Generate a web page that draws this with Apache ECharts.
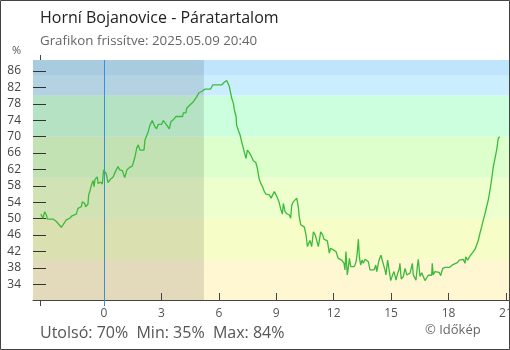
<!DOCTYPE html>
<html>
<head>
<meta charset="utf-8">
<script src="https://cdn.jsdelivr.net/npm/echarts@6/dist/echarts.min.js"></script>
<style>html,body{margin:0;padding:0;background:#fff}#c{width:510px;height:350px}</style>
</head>
<body>
<div id="c"></div>
<script>
// Hours relative to midnight 2025.05.09 (negative = previous evening)
const times = [-3.30,-3.19,-3.10,-3.01,-2.96,-2.66,-2.49,-2.23,-2.14,-1.97,
-1.79,-1.67,-1.45,-1.36,-1.19,-1.13,-1.01,-0.96,-0.84,-0.80,
-0.72,-0.63,-0.57,-0.52,-0.47,-0.40,-0.35,-0.31,-0.26,-0.17,
-0.09,-0.02,0.04,0.12,0.21,0.33,0.47,0.56,0.64,0.73,
0.82,0.96,1.08,1.20,1.34,1.48,1.53,1.62,1.71,1.79,
1.88,2.09,2.14,2.31,2.40,2.52,2.66,2.75,2.84,3.01,
3.10,3.28,3.41,3.50,3.62,3.75,4.11,4.14,4.28,4.32,
4.49,4.67,4.84,4.96,5.10,5.28,5.57,5.68,6.15,6.27,
6.41,6.49,6.55,6.67,6.76,6.81,6.90,6.93,7.02,7.11,
7.19,7.28,7.37,7.42,7.49,7.59,7.72,7.80,7.93,8.01,
8.10,8.19,8.29,8.36,8.45,8.64,8.73,8.81,8.90,9.02,
9.14,9.25,9.32,9.37,9.46,9.55,9.68,9.75,9.81,9.89,
10.07,10.15,10.20,10.28,10.46,10.55,10.63,10.76,10.85,10.94,
11.04,11.13,11.20,11.32,11.43,11.49,11.67,11.72,11.77,11.84,
11.98,12.12,12.24,12.42,12.54,12.59,12.64,12.71,12.76,12.82,
12.89,12.97,13.08,13.17,13.23,13.29,13.34,13.41,13.48,13.55,
13.64,13.81,13.90,13.99,14.11,14.20,14.25,14.37,14.47,14.56,
14.63,14.68,14.73,14.82,14.91,14.98,15.08,15.15,15.26,15.32,
15.43,15.46,15.53,15.64,15.73,15.82,15.99,16.11,16.16,16.30,
16.37,16.42,16.51,16.60,16.68,16.77,16.86,16.94,17.12,17.15,
17.20,17.29,17.52,17.59,17.70,17.76,17.82,18.04,18.17,18.29,
18.46,18.56,18.77,18.86,18.90,19.00,19.12,19.26,19.38,19.47,
19.56,19.64,19.73,19.82,19.91,19.99,20.08,20.17,20.26,20.34,
20.43,20.52,20.60,20.67];

// Relative humidity (%)
const humidity = [51.1,50.1,51.7,50.9,49.9,49.9,49.3,47.9,48.0,49.7,
50.1,50.7,51.1,52.5,52.9,54.1,53.7,52.9,53.5,55.8,
57.0,58.6,59.3,57.8,59.6,59.8,60.2,58.6,58.4,58.9,
58.4,61.9,61.5,60.9,58.8,59.6,60.1,61.1,61.5,62.7,
61.9,61.7,60.0,61.9,62.5,62.8,63.1,65.1,67.2,68.0,
66.7,66.7,69.2,71.2,72.8,73.9,72.4,71.9,73.0,73.0,
73.9,72.8,71.9,73.7,74.1,74.9,74.9,75.8,75.8,76.9,
77.7,78.5,79.7,80.7,81.0,81.6,81.6,82.6,82.6,83.2,
83.7,83.4,82.2,79.4,78.1,76.5,74.9,72.8,71.5,70.4,
68.8,67.2,65.5,64.7,66.7,66.1,65.0,64.1,63.7,62.3,
59.8,58.6,57.7,56.8,56.0,55.8,55.0,55.0,56.6,55.5,
54.1,52.1,51.1,53.7,51.7,51.2,50.9,50.1,53.3,54.1,
55.0,52.9,50.5,48.5,48.0,46.2,43.2,44.7,43.2,46.8,
46.0,44.4,43.2,46.8,46.0,45.0,44.6,43.2,41.6,42.8,
42.4,42.0,40.3,39.9,39.1,37.5,42.0,36.3,37.9,40.3,
38.3,38.7,38.3,39.5,41.6,45.0,40.7,38.7,39.9,39.1,
40.1,39.5,37.5,37.9,37.5,38.7,37.1,39.9,41.1,39.5,
38.3,37.5,36.3,39.9,37.1,34.9,36.3,37.1,35.0,36.3,
37.9,39.1,35.3,35.9,37.9,36.3,36.7,39.1,36.3,35.0,
38.3,40.1,35.9,36.8,35.9,34.9,35.2,36.2,36.2,39.1,
36.3,37.1,36.9,36.1,37.9,37.5,38.1,38.1,38.6,38.9,
39.3,39.9,40.1,39.1,40.7,39.9,40.9,41.7,42.5,43.6,
44.8,46.4,48.0,49.7,51.3,52.9,54.6,57.0,59.8,62.7,
64.7,66.9,69.6,70.0];

const xTickLabels = [0, 3, 6, 9, 12, 15, 18, 21];
const yTickLabels = [34, 38, 42, 46, 50, 54, 58, 62, 66, 70, 74, 78, 82, 86];
const bandEdges = [30.17, 40, 50, 60, 70, 80, 85, 88.68];
const bandColors = ['#fff6d2', '#f6fdc6', '#ecffcc', '#ddffcc', '#ccffdd', '#cbeeff', '#bee5fc'];
const dataStart = -3.33;   // 20:40 previous day
const sunrise = 5.22;
const X_MIN = -3.71, X_MAX = 21.16;
const Y_MIN = 30.17, Y_MAX = 88.68;

const titleText = 'Horní Bojanovice - Páratartalom';
const subtitleText = 'Grafikon frissítve: 2025.05.09 20:40';
const statsText = 'Utolsó: 70%  Min: 35%  Max: 84%';
const creditText = '© Időkép';

const FONT = '"Open Sans", "Noto Sans", sans-serif';
const chart = echarts.init(document.getElementById('c'), null, {renderer: 'canvas'});

const bandAreas = [];
for (let i = 0; i < bandColors.length; i++) {
  bandAreas.push([{yAxis: bandEdges[i], itemStyle: {color: bandColors[i]}}, {yAxis: bandEdges[i + 1]}]);
}

const baseX = {type: 'value', min: X_MIN, max: X_MAX, gridIndex: 0, splitLine: {show: false}, z: 5};

chart.setOption({
  animation: false,
  backgroundColor: '#fff',
  grid: {left: 33, right: 1, top: 60, bottom: 50, containLabel: false, outerBoundsMode: 'none'},
  xAxis: [
    Object.assign({}, baseX, {
      position: 'bottom',
      axisLine: {show: true, onZero: false, lineStyle: {color: '#444', width: 1}},
      axisTick: {show: true, inside: true, length: 7, customValues: xTickLabels.filter(v => v !== 0), lineStyle: {color: '#444'}},
      axisLabel: {show: true, customValues: xTickLabels, color: '#555', fontSize: 12, fontFamily: FONT, margin: 8, hideOverlap: false}
    }),
    Object.assign({}, baseX, {
      position: 'bottom',
      axisLine: {show: false, onZero: false},
      axisTick: {show: true, inside: false, length: 6, customValues: [dataStart], lineStyle: {color: '#444'}},
      axisLabel: {show: false}
    }),
    Object.assign({}, baseX, {
      position: 'top',
      axisLine: {show: false, onZero: false},
      axisTick: {show: true, inside: false, length: 5, customValues: [dataStart], lineStyle: {color: '#444'}},
      axisLabel: {show: false}
    }),
    Object.assign({}, baseX, {
      position: 'bottom',
      axisLine: {show: false, onZero: false},
      axisTick: {show: true, inside: false, length: 6, customValues: [0], lineStyle: {color: '#3a8fd6'}},
      axisLabel: {show: false}
    })
  ],
  yAxis: {
    type: 'value', min: Y_MIN, max: Y_MAX, position: 'left', z: 5,
    axisLine: {show: false, onZero: false},
    axisTick: {show: true, inside: true, length: 13, customValues: yTickLabels, lineStyle: {color: '#333'}},
    axisLabel: {show: true, customValues: yTickLabels, color: '#444', fontSize: 12, fontFamily: FONT, margin: 12},
    splitLine: {show: false}
  },
  series: [
    {
      type: 'line', data: [], z: 1, silent: true,
      markArea: {silent: true, data: bandAreas}
    },
    {
      type: 'line', data: [], z: 2, silent: true,
      markArea: {silent: true, data: [[{xAxis: X_MIN, itemStyle: {color: 'rgba(0,0,0,0.115)'}}, {xAxis: sunrise}]]},
      markLine: {silent: true, symbol: 'none', label: {show: false},
        lineStyle: {color: '#3a8fd6', width: 1, type: 'solid'},
        data: [{xAxis: 0}]}
    },
    {
      type: 'line', z: 6, silent: true,
      data: times.map((t, i) => [t, humidity[i]]),
      showSymbol: false, symbol: 'none',
      lineStyle: {color: '#3cba3c', width: 1.3},
      itemStyle: {color: '#3cba3c'}
    }
  ],
  graphic: [
    {type: 'text', silent: true, style: {x: 40, y: 18.5, text: titleText, fill: '#222', fontSize: 16, fontFamily: FONT, verticalAlign: 'middle'}},
    {type: 'text', silent: true, style: {x: 40, y: 41, text: subtitleText, fill: '#666', fontSize: 13.3, fontFamily: FONT, verticalAlign: 'middle'}},
    {type: 'text', silent: true, style: {x: 21, y: 51, text: '%', fill: '#555', fontSize: 11, fontFamily: FONT, align: 'right', verticalAlign: 'middle'}},
    {type: 'text', silent: true, style: {x: 40, y: 333, text: statsText, fill: '#555', fontSize: 16, fontFamily: FONT, verticalAlign: 'middle'}},
    {type: 'text', silent: true, style: {x: 425, y: 330, text: creditText, fill: '#666', fontSize: 13, fontFamily: FONT, verticalAlign: 'middle'}},
    {type: 'rect', silent: true, z: 100, shape: {x: 0.5, y: 0.5, width: 509, height: 349}, style: {fill: 'none', stroke: '#444', lineWidth: 1}}
  ]
});
</script>
</body>
</html>
